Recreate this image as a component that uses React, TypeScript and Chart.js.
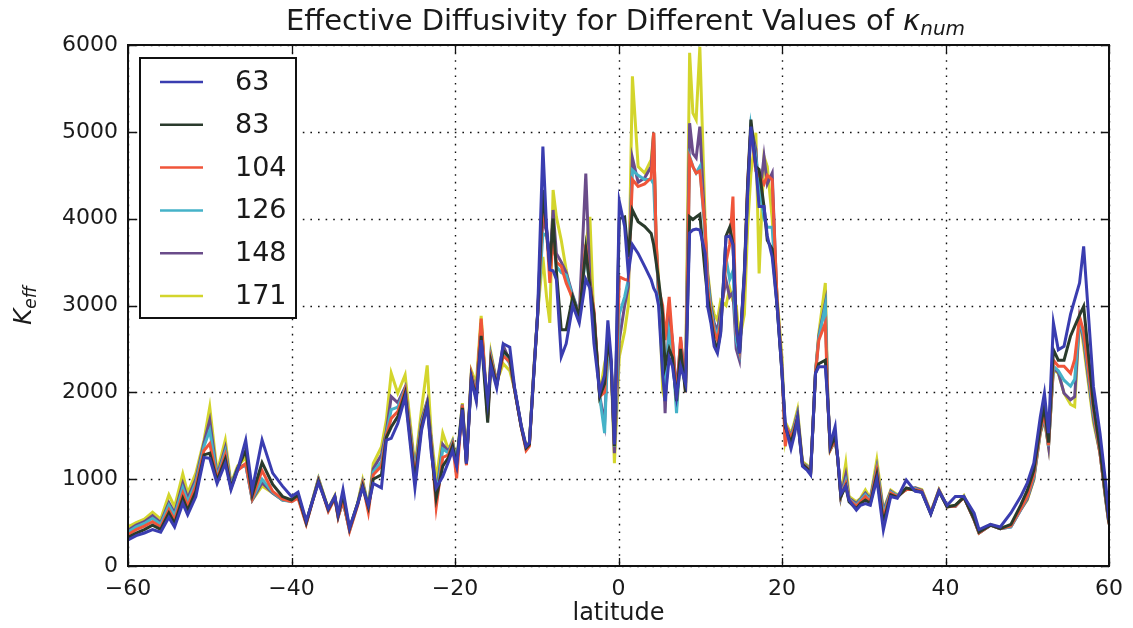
import React, { useEffect, useRef } from 'react';
import { Chart, registerables } from 'chart.js';

Chart.register(...registerables);

// latitude samples (degrees)
const latitude = [
  -60, -59, -58, -57, -56, -55, -54.3, -53.3, -52.7, -51.7, -50.7, -50, -49.1, -48.1, -47.4, -46.6, -45.6, -44.8, -43.6, -42.3, -41.1, -40,
  -39.2, -38.2, -36.7, -35.5, -34.7, -34.3, -33.7, -32.9, -31.9, -31.3, -30.6, -30, -29, -28.4, -27.8, -27, -26.1, -24.9, -24.1, -23.4, -22.9, -22.3, -21.5, -20.8, -20.3,
  -19.8, -19.1, -18.6, -18, -17.4, -16.8, -16, -15.6, -14.9, -14.1, -13.3, -12.7, -11.9, -11.3, -10.9, -10.3, -9.9, -9.25, -8.8, -8.4, -8, -7.6, -7, -6.4, -5.6, -4.8, -4, -3.5, -3, -2.3, -1.7, -1.3, -0.9, -0.5,
  0.1, 0.75, 1.2, 1.7, 2.4, 3.2, 4.0, 4.3, 4.6, 4.9, 5.4, 5.7, 6.2, 6.6, 7.1, 7.6, 8.2, 8.7, 9.1, 9.5, 9.95, 10.6, 10.9, 11.3, 11.7, 12.1, 12.5, 13.15, 13.6, 14.0, 14.4, 14.8, 15.4, 15.8, 16.2, 16.8, 17.2, 17.8, 18.2, 18.8, 19.4, 20.0, 20.4,
  20.7, 21.1, 21.5, 21.9, 22.5, 23.1, 23.5, 24.1, 24.5, 25.3, 25.6, 25.9, 26.5, 26.8, 27.2, 27.8, 28.2, 29.1, 29.6, 30.2, 30.8, 31.6, 32.4, 33.3, 34.1, 35.2, 36.3, 37.1, 38.2, 39.2, 40.2,
  41.2, 42.25, 43.5, 44.1, 45.5, 46.7, 48, 49.2, 50, 50.8, 51.6, 52.1, 52.6, 53.2, 53.8, 54.5, 55.3, 55.8, 56.4, 56.9, 58.1, 58.9, 59.6, 60,
];

const k63 = [
  300, 350, 380, 420, 390, 560, 450, 720, 590, 800, 1250, 1240, 950, 1180, 880, 1100, 1450, 880, 1450, 1070, 920, 800,
  850, 520, 960, 660, 800, 600, 880, 440, 720, 900, 700, 950, 900, 1450, 1470, 1640, 1950, 900, 1560, 1840, 1300, 900, 1030, 1200, 1330,
  1150, 1800, 1180, 2150, 1900, 2600, 1900, 2300, 2050, 2560, 2520, 2050, 1620, 1380, 1420, 2300, 2900, 4830, 3900, 3410, 3400, 3300, 2410, 2560, 3000, 2800, 3300, 3200, 2560, 2000, 2200, 2830, 2400, 1400,
  4200, 3910, 3370, 3700, 3600, 3450, 3295, 3200, 3145, 3000, 2200, 1900, 2400, 2300, 1950, 2300, 2100, 3835, 3870, 3880, 3870, 3600, 2990, 2800, 2530, 2450, 2680, 3790, 3800, 3700, 2760, 2450, 3370, 4300, 5060, 4600, 4140, 4140, 3800, 3560, 2990, 2220, 1645,
  1500, 1350, 1500, 1700, 1150, 1100, 1050, 2220, 2295, 2295, 1900, 1400, 1605, 1260, 830, 920, 760, 645, 700, 720, 700, 1000, 415, 800, 780, 990, 860, 850, 600, 860, 700,
  800, 800, 610, 420, 480, 450, 610, 800, 955, 1185, 1720, 1990, 1530, 2800, 2490, 2530, 2900, 3065, 3260, 3680, 2065, 1530, 955, 530,
];

const k83 = [
  330, 380, 420, 470, 420, 610, 490, 780, 640, 860, 1280, 1300, 980, 1230, 900, 1120, 1330, 820, 1190, 940, 800, 760,
  820, 500, 980, 650, 790, 580, 820, 430, 720, 920, 680, 1000, 1050, 1480, 1600, 1720, 1990, 980, 1600, 1860, 1350, 780, 1150, 1250, 1380,
  1170, 1820, 1180, 2170, 1930, 2650, 1650, 2350, 2080, 2480, 2400, 2030, 1600, 1360, 1400, 2300, 2880, 4330, 3870, 3450, 4000, 3400, 2720, 2720, 3100, 2870, 3650, 3220, 2900, 1950, 2100, 2600, 2350, 1380,
  4000, 4020, 3560, 4100, 3965, 3910, 3830, 3700, 3500, 3300, 2900, 2300, 2500, 2400, 1900, 2500, 2000, 4020, 3990, 4020, 4050, 3370, 3100, 2850, 2600, 2490, 2700, 3800, 3900, 3710, 2800, 2450, 3400, 4400, 5140, 4600, 4565, 4140, 3750, 3650, 3000, 2220, 1600,
  1520, 1420, 1550, 1700, 1170, 1120, 1060, 2220, 2330, 2370, 1900, 1360, 1500, 1250, 800, 920, 740, 660, 720, 760, 720, 1050, 500, 820, 790, 900, 870, 850, 600, 860, 680,
  700, 790, 540, 390, 470, 430, 480, 700, 870, 1100, 1600, 1840, 1420, 2490, 2370, 2370, 2650, 2760, 2890, 2990, 1850, 1350, 800, 500,
];

const k104 = [
  360, 420, 460, 510, 450, 650, 530, 840, 690, 920, 1330, 1410, 1000, 1280, 900, 1100, 1180, 780, 1100, 860, 770, 740,
  780, 480, 990, 630, 780, 560, 760, 400, 700, 940, 620, 1050, 1150, 1500, 1700, 1780, 2030, 1030, 1620, 1870, 1400, 680, 1250, 1280, 1400,
  1010, 1850, 1160, 2200, 1950, 2850, 1700, 2380, 2100, 2420, 2350, 2020, 1600, 1330, 1380, 2320, 2870, 4140, 3880, 3260, 3750, 3500, 3450, 3260, 3080, 2880, 3700, 3230, 2950, 1950, 2000, 2600, 2350, 1380,
  3330, 3300, 3290, 4450, 4370, 4400, 4470, 4990, 3750, 3200, 3000, 2600, 3100, 2600, 1900, 2640, 2000, 4700, 4600, 4525, 4550, 3900, 3200, 2900, 2700, 2600, 2800, 3500, 3700, 4255, 2700, 2500, 3300, 4400, 5060, 4550, 4500, 4400, 4500, 4450, 3050, 2250, 1380,
  1565, 1480, 1580, 1720, 1180, 1130, 1070, 2220, 2600, 2800, 1910, 1340, 1460, 1260, 800, 950, 760, 690, 740, 800, 740, 1100, 550, 840, 800, 880, 880, 860, 610, 870, 680,
  690, 790, 530, 380, 470, 430, 460, 660, 800, 1050, 1570, 1750, 1390, 2370, 2300, 2300, 2220, 2380, 2870, 2700, 1800, 1300, 780, 490,
];

const k126 = [
  390, 450, 490, 550, 480, 700, 580, 900, 740, 960, 1380, 1560, 1020, 1320, 920, 1120, 1160, 770, 1000, 850, 760, 740,
  800, 490, 1000, 640, 790, 570, 750, 410, 710, 950, 660, 1080, 1200, 1520, 1800, 1830, 2040, 1080, 1650, 1880, 1430, 750, 1350, 1300, 1420,
  1150, 1850, 1180, 2200, 1980, 2750, 1720, 2400, 2100, 2450, 2330, 2030, 1610, 1350, 1400, 2330, 2870, 3830, 3800, 3500, 3900, 3450, 3380, 3350, 3100, 2900, 3600, 3220, 2850, 1950, 1530, 2550, 2330, 1370,
  2900, 3100, 3300, 4560, 4500, 4450, 4450, 4400, 3700, 3100, 2300, 2000, 2700, 2500, 1760, 2500, 2050, 4715, 4600, 4525, 4600, 3800, 3300, 2950, 2750, 2650, 2850, 3550, 3300, 3400, 2600, 2450, 3350, 4300, 5060, 4700, 4400, 4000, 3900, 3900, 3000, 2250, 1500,
  1560, 1490, 1600, 1740, 1180, 1140, 1070, 2230, 2620, 3000, 1920, 1340, 1450, 1260, 800, 980, 770, 700, 760, 820, 760, 1120, 600, 850, 810, 880, 890, 860, 610, 870, 685,
  690, 795, 530, 380, 470, 430, 450, 650, 790, 1020, 1560, 1720, 1380, 2300, 2250, 2140, 2070, 2150, 2840, 2650, 1750, 1300, 770, 490,
];

const k148 = [
  410, 470, 510, 580, 500, 730, 610, 950, 780, 1000, 1420, 1680, 1040, 1360, 930, 1130, 1170, 760, 960, 840, 760, 750,
  800, 500, 1000, 650, 800, 570, 740, 420, 720, 960, 680, 1120, 1280, 1550, 1950, 1880, 2060, 1100, 1680, 1900, 1450, 800, 1400, 1320, 1430,
  1170, 1860, 1190, 2210, 2000, 2800, 1740, 2420, 2110, 2540, 2360, 2030, 1610, 1360, 1410, 2330, 2880, 4000, 3850, 3500, 4100, 3600, 3500, 3380, 3120, 2900, 4520, 3300, 2900, 1960, 1640, 2500, 2330, 1300,
  2600, 3000, 3215, 4700, 4420, 4470, 4600, 4990, 3750, 3070, 2600, 1760, 2900, 2600, 2000, 2600, 2100, 5100, 4750, 4700, 5060, 3835, 3350, 3000, 2800, 2700, 2950, 3290, 3100, 3150, 2500, 2370, 3300, 4350, 5060, 4800, 4200, 4715, 4400, 4525, 3050, 2300, 1500,
  1570, 1500, 1620, 1760, 1185, 1145, 1070, 2230, 2650, 3030, 1930, 1340, 1450, 1260, 800, 1050, 780, 720, 770, 840, 770, 1140, 630, 860, 810, 880, 900, 870, 610, 875, 685,
  685, 800, 530, 380, 470, 430, 450, 645, 770, 1000, 1540, 1700, 1375, 2280, 2230, 1990, 1915, 1950, 2850, 2600, 1700, 1300, 760, 480,
];

const k171 = [
  450, 500, 540, 620, 540, 820, 680, 1060, 840, 1070, 1450, 1830, 1080, 1450, 950, 1150, 1250, 760, 920, 840, 760, 760,
  820, 500, 1010, 660, 810, 580, 750, 430, 730, 990, 690, 1180, 1370, 1680, 2220, 1990, 2200, 1140, 1800, 2310, 1500, 990, 1530, 1340, 1450,
  1185, 1875, 1200, 2250, 2100, 2880, 1750, 2450, 2120, 2330, 2250, 2030, 1620, 1380, 1430, 2350, 2900, 3560, 3100, 2800, 4330, 4020, 3750, 3410, 3030, 2870, 3700, 4020, 2800, 1980, 2330, 2500, 2330, 1185,
  2410, 2700, 3000, 5640, 4600, 4525, 4680, 4990, 3750, 3300, 2030, 1900, 2600, 2500, 1835, 2400, 2140, 5910, 5215, 5140, 5980, 3950, 3400, 3050, 2900, 2830, 3060, 3000, 3200, 3050, 3000, 2600, 2900, 3900, 4525, 4990, 3370, 4715, 4600, 4000, 3100, 2400, 1450,
  1600, 1520, 1650, 1800, 1200, 1160, 1080, 2240, 2680, 3260, 1950, 1335, 1450, 1260, 820, 1185, 800, 740, 780, 875, 780, 1220, 645, 875, 820, 880, 900, 880, 620, 880, 690,
  690, 810, 540, 380, 480, 440, 460, 650, 760, 990, 1530, 1680, 1375, 2260, 2220, 1990, 1860, 1835, 2860, 2530, 1650, 1300, 760, 480,
];

const seriesLabels = ['63', '83', '104', '126', '148', '171'];
const seriesValues = [k63, k83, k104, k126, k148, k171];
const seriesColors = ['#3a3db0', '#2a3b2c', '#f0553a', '#45b2c8', '#6a4c8a', '#d3d52c'];

const xTicks = [-60, -40, -20, 0, 20, 40, 60];
const yTicks = [0, 1000, 2000, 3000, 4000, 5000, 6000];

const FONT = '"DejaVu Sans", "Liberation Sans", sans-serif';

const fmtTick = (v: number) => (v < 0 ? '\u2212' + Math.abs(v) : String(v));

const decorPlugin = {
  id: 'decor',
  beforeDatasetsDraw(chart: any) {
    const { ctx, chartArea: a, scales } = chart;
    ctx.save();
    ctx.strokeStyle = '#111';
    ctx.lineWidth = 1.4;
    ctx.setLineDash([1.6, 6]);
    xTicks.forEach((v) => {
      const x = Math.round(scales.x.getPixelForValue(v)) + 0.5;
      ctx.beginPath();
      ctx.moveTo(x, a.top);
      ctx.lineTo(x, a.bottom);
      ctx.stroke();
    });
    yTicks.forEach((v) => {
      const y = Math.round(scales.y.getPixelForValue(v)) + 0.5;
      ctx.beginPath();
      ctx.moveTo(a.left, y);
      ctx.lineTo(a.right, y);
      ctx.stroke();
    });
    ctx.restore();
  },
  afterDatasetsDraw(chart: any) {
    const { ctx, chartArea: a, scales, data } = chart;
    ctx.save();
    // inward tick marks
    ctx.strokeStyle = '#111';
    ctx.lineWidth = 1.3;
    const tl = 8;
    xTicks.forEach((v) => {
      const x = Math.round(scales.x.getPixelForValue(v)) + 0.5;
      ctx.beginPath();
      ctx.moveTo(x, a.bottom);
      ctx.lineTo(x, a.bottom - tl);
      ctx.moveTo(x, a.top);
      ctx.lineTo(x, a.top + tl);
      ctx.stroke();
    });
    yTicks.forEach((v) => {
      const y = Math.round(scales.y.getPixelForValue(v)) + 0.5;
      ctx.beginPath();
      ctx.moveTo(a.left, y);
      ctx.lineTo(a.left + tl, y);
      ctx.moveTo(a.right, y);
      ctx.lineTo(a.right - tl, y);
      ctx.stroke();
    });
    // frame
    ctx.lineWidth = 2;
    ctx.strokeStyle = '#111';
    ctx.strokeRect(a.left, a.top, a.right - a.left, a.bottom - a.top);

    // legend
    const lx = a.left + 12;
    const ly = a.top + 13;
    const lw = 156;
    const lh = 260;
    ctx.fillStyle = '#fff';
    ctx.fillRect(lx, ly, lw, lh);
    ctx.lineWidth = 2;
    ctx.strokeRect(lx, ly, lw, lh);
    ctx.font = `27px ${FONT}`;
    ctx.textBaseline = 'middle';
    ctx.textAlign = 'left';
    data.datasets.forEach((ds: any, i: number) => {
      const y = ly + 24 + i * 42.8;
      ctx.strokeStyle = ds.borderColor;
      ctx.lineWidth = 2.5;
      ctx.beginPath();
      ctx.moveTo(lx + 20, y);
      ctx.lineTo(lx + 63, y);
      ctx.stroke();
      ctx.fillStyle = '#1a1a1a';
      ctx.fillText(ds.label, lx + 95, y + 1);
    });
    ctx.restore();
  },
  afterDraw(chart: any) {
    const { ctx, chartArea: a } = chart;
    ctx.save();
    ctx.fillStyle = '#1a1a1a';
    ctx.textBaseline = 'alphabetic';
    ctx.textAlign = 'left';
    // title
    const main = 'Effective Diffusivity for Different Values of ';
    ctx.font = `29px ${FONT}`;
    const w1 = ctx.measureText(main).width;
    ctx.font = `italic 29px ${FONT}`;
    const w2 = ctx.measureText('\u03ba').width;
    ctx.font = `italic 20px ${FONT}`;
    const w3 = ctx.measureText('num').width;
    const cx = (a.left + a.right) / 2 + 7;
    let x = cx - (w1 + w2 + w3) / 2;
    const by = 30;
    ctx.font = `29px ${FONT}`;
    ctx.fillText(main, x, by);
    x += w1;
    ctx.font = `italic 29px ${FONT}`;
    ctx.fillText('\u03ba', x, by);
    x += w2;
    ctx.font = `italic 20px ${FONT}`;
    ctx.fillText('num', x, by + 5);

    // x label
    ctx.font = `24px ${FONT}`;
    ctx.textAlign = 'center';
    ctx.fillText('latitude', (a.left + a.right) / 2, 620);

    // y label
    ctx.save();
    ctx.translate(31, (a.top + a.bottom) / 2);
    ctx.rotate(-Math.PI / 2);
    ctx.textAlign = 'left';
    ctx.font = `italic 25px ${FONT}`;
    const wk = ctx.measureText('K').width;
    ctx.font = `italic 17px ${FONT}`;
    const we = ctx.measureText('eff').width;
    let yx = -(wk + we) / 2;
    ctx.font = `italic 25px ${FONT}`;
    ctx.fillText('K', yx, 0);
    yx += wk;
    ctx.font = `italic 17px ${FONT}`;
    ctx.fillText('eff', yx, 5);
    ctx.restore();

    ctx.restore();
  },
};

export default function App() {
  const ref = useRef<HTMLCanvasElement | null>(null);

  useEffect(() => {
    if (!ref.current) return;
    const datasets = seriesValues.map((vals, i) => ({
      label: seriesLabels[i],
      data: latitude.map((lat, j) => ({ x: lat, y: vals[j] })),
      borderColor: seriesColors[i],
      backgroundColor: seriesColors[i],
      borderWidth: 3,
      pointRadius: 0,
      tension: 0,
      fill: false,
    }));
    const chart = new Chart(ref.current, {
      type: 'line',
      data: { datasets },
      options: {
        animation: false,
        responsive: false,
        devicePixelRatio: 1,
        layout: { padding: { left: 48, right: 24, top: 45, bottom: 0 } },
        plugins: {
          legend: { display: false },
          title: { display: false },
          tooltip: { enabled: false },
        },
        scales: {
          x: {
            type: 'linear',
            min: -60,
            max: 60,
            afterFit: (s: any) => {
              s.height = 62;
            },
            afterBuildTicks: (s: any) => {
              s.ticks = xTicks.map((v) => ({ value: v }));
            },
            grid: { display: false, drawTicks: false },
            border: { display: false },
            ticks: {
              autoSkip: false,
              maxRotation: 0,
              padding: 10,
              color: '#1a1a1a',
              font: { family: FONT, size: 22 },
              callback: (v: any) => fmtTick(Number(v)),
            },
          },
          y: {
            type: 'linear',
            min: 0,
            max: 6000,
            afterFit: (s: any) => {
              s.width = 80;
            },
            afterBuildTicks: (s: any) => {
              s.ticks = yTicks.map((v) => ({ value: v }));
            },
            grid: { display: false, drawTicks: false },
            border: { display: false },
            ticks: {
              padding: 10,
              color: '#1a1a1a',
              font: { family: FONT, size: 22 },
              callback: (v: any) => String(v),
            },
          },
        },
      },
      plugins: [decorPlugin],
    });
    return () => chart.destroy();
  }, []);

  return (
    <div style={{ position: 'absolute', left: 0, top: 0, width: 1133, height: 628, background: '#fff' }}>
      <canvas ref={ref} width={1133} height={628} style={{ width: 1133, height: 628 }} />
    </div>
  );
}
